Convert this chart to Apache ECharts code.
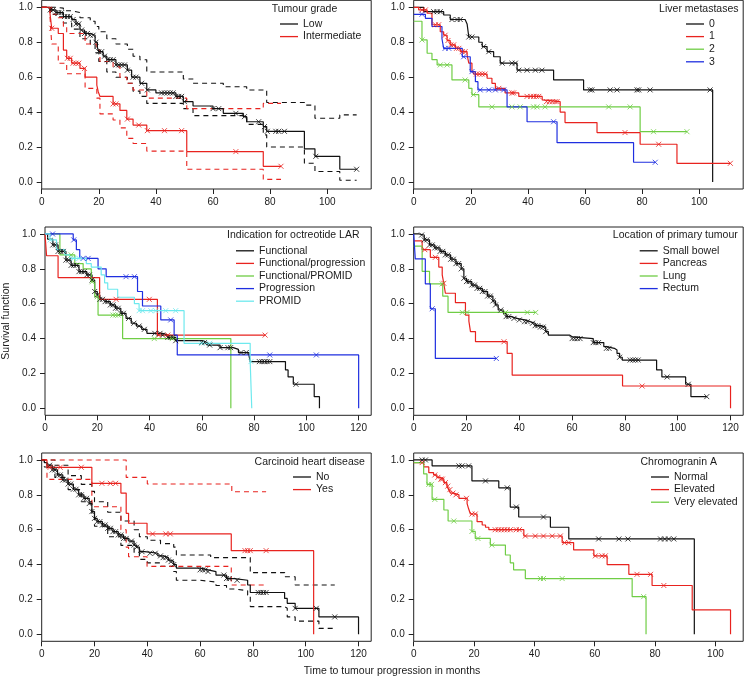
<!DOCTYPE html>
<html><head><meta charset="utf-8">
<script src="https://cdn.jsdelivr.net/npm/echarts@6/dist/echarts.min.js"></script>
<style>html,body{margin:0;padding:0;background:#fff}#c{width:744px;height:678px}</style>
</head><body><div id="c"></div>
<script>
// ---------------- DATA ----------------
// Panel 1: Tumour grade
const gradeLow = [[0,1],[3,0.985],[5,0.97],[7.6,0.947],[10.5,0.93],[12,0.905],[13.4,0.87],[15,0.85],[17,0.84],[18.7,0.80],[19.5,0.77],[20,0.746],[21.5,0.72],[22.8,0.70],[26,0.67],[30,0.64],[31.5,0.60],[34.4,0.565],[36.8,0.527],[40,0.51],[47,0.49],[49.6,0.46],[53,0.435],[60,0.42],[63.6,0.393],[70.6,0.374],[71.8,0.345],[77.6,0.317],[78.8,0.29],[92,0.19],[95.7,0.147],[104.4,0.073],[110.3,0.073]];
const gradeLowCens = [3,4,5,6,7,8,9,10,11,12,13,14,15,16,17,18,19,20,21,22,23,24,25,26,27,28,29,30,32,33,35,37,42,43,44,45,46,47,48,49,50,60,62,68,71,76,78,79,82,83,85,96,110.3];
const gradeLowUpper = [[0,1],[5,0.995],[7.6,0.98],[10.5,0.97],[13.4,0.94],[17,0.92],[18.7,0.89],[20,0.86],[22.8,0.82],[26,0.79],[30,0.76],[32,0.72],[34.4,0.70],[36.8,0.63],[49.6,0.59],[53,0.565],[63.6,0.545],[71.8,0.527],[78.8,0.455],[92,0.44],[95.7,0.365],[104.4,0.384],[110.3,0.384]];
const gradeLowLower = [[0,1],[3,0.96],[5,0.945],[7.6,0.91],[10.5,0.875],[13.4,0.82],[17,0.79],[18.7,0.74],[20,0.69],[22.8,0.63],[26,0.60],[30,0.565],[32,0.52],[34.4,0.49],[36.8,0.45],[49.6,0.42],[53,0.38],[71.8,0.33],[77.6,0.27],[78.8,0.20],[92,0.107],[95.7,0.06],[104.4,0.01],[110.3,0.01]];
const gradeInt = [[0,1],[2.9,0.965],[3.5,0.88],[5.8,0.85],[7.6,0.755],[8.75,0.708],[10.5,0.68],[13.4,0.65],[15.2,0.60],[19.3,0.555],[19.8,0.517],[20.4,0.49],[25,0.447],[27.4,0.41],[29.8,0.36],[32,0.326],[36.8,0.294],[50.8,0.174],[77.6,0.09],[83.8,0.09]];
const gradeIntCens = [3.5,9,10,11,12,13,15,25,26,30,34,37,43,49,68,83.8];
const gradeIntUpper = [[0,1],[3.5,0.96],[5.8,0.94],[7.6,0.89],[8.75,0.85],[15.2,0.79],[19.3,0.755],[20.4,0.69],[25,0.66],[27.4,0.60],[29.8,0.565],[32,0.527],[36.8,0.48],[50.8,0.42],[77.6,0.45],[83.8,0.45]];
const gradeIntLower = [[0,1],[2.9,0.947],[3.5,0.79],[5.8,0.68],[8.75,0.62],[15.2,0.536],[19.3,0.48],[20.4,0.39],[25,0.355],[27.4,0.31],[29.8,0.25],[32,0.22],[36.8,0.177],[50.8,0.073],[77.6,0.015],[83.8,0.015]];

// Panel 2: Liver metastases
const liver0 = [[0,1],[3.5,0.975],[10.5,0.956],[12.8,0.93],[18,0.92],[18.7,0.905],[19.3,0.83],[22.8,0.80],[24,0.775],[25.7,0.746],[28,0.717],[30.3,0.68],[36.2,0.64],[49,0.584],[59.5,0.527],[104.7,0]];
const liver0Cens = [7,8.2,9.3,13.4,15.2,16.3,19.3,20.4,24.5,26.3,31,34.4,35.6,36.8,39.7,42.6,44.9,61.8,62.4,68.8,71.2,78.2,78.8,82.8,103.8];
const liver1 = [[0,1],[1.75,0.985],[4.7,0.966],[6.4,0.9],[9.3,0.86],[10.5,0.84],[11.7,0.81],[12.8,0.785],[14.6,0.765],[16.3,0.746],[18.7,0.727],[19.3,0.68],[20.4,0.64],[21,0.618],[25.7,0.594],[27.4,0.565],[28.6,0.536],[32,0.51],[36.8,0.49],[45,0.47],[45.5,0.46],[51.3,0.40],[53,0.34],[64.2,0.283],[79.3,0.216],[92.2,0.107],[110.9,0.107]];
const liver1Cens = [2.9,4.1,7.6,8.75,11,12,13,14,15,15.8,17,18,22,23,24,25,29.8,34.4,35,39.7,41,42,43,43.8,46.5,47.5,48.5,49.5,50.2,74,85.8,110.9];
const liver2 = [[0,0.92],[2.9,0.813],[4.7,0.737],[6.4,0.70],[8.2,0.67],[13.4,0.584],[19.3,0.536],[20.4,0.50],[22.8,0.43],[79.3,0.288],[95.7,0.288]];
const liver2Cens = [2.9,9.3,11.7,18,20.9,27.4,34.4,37.3,42,43.2,46,68.3,75.8,84,95.7];
const liver3 = [[0,0.96],[4.1,0.937],[6.4,0.89],[9.9,0.82],[10.5,0.765],[17,0.717],[19.8,0.632],[21.6,0.574],[22.5,0.527],[32.7,0.43],[39.7,0.345],[50.2,0.225],[77,0.113],[84.6,0.113]];
const liver3Cens = [2.9,11,12.3,17.5,20.4,23.3,26.3,28.6,31.5,49,84.6];

// Panel 3: Indication for octreotide LAR
const indFunc = [[0,1],[1,0.97],[3,0.937],[5,0.9],[8,0.85],[10,0.82],[13,0.784],[16,0.765],[18,0.736],[19,0.67],[20,0.65],[21,0.625],[23,0.612],[25,0.593],[27,0.574],[29,0.545],[31,0.516],[33,0.488],[35,0.472],[37,0.453],[39,0.43],[45,0.42],[47,0.407],[50,0.388],[60,0.377],[62,0.363],[67,0.348],[72,0.338],[74,0.32],[78,0.306],[78.5,0.268],[92,0.22],[93,0.18],[95,0.138],[103,0.067],[105,0]];
const indFuncCens = [3,4,5,6,7,8,9,10,11,12,13,14,15,16,17,18,19,20,21,22,23,24,25,26,27,28,29,30,32,34,36,38,42,44,45,47,48,49,50,60,61,63,67,70,71,75,77,82,83,84,85,86,96];
const indFuncProg = [[0,1],[0.6,0.875],[5,0.75],[20.9,0.625],[43,0.42],[84.2,0.42]];
const indFuncProgCens = [27.2,39.9,43.5,47,84.2];
const indFuncPromid = [[0,1],[5.7,0.88],[11.4,0.83],[14.6,0.80],[17.7,0.726],[19,0.64],[20.3,0.535],[29.7,0.40],[71.1,0]];
const indFuncPromidCens = [10,18,20,26,27,28,41.8,48.7];
const indProg = [[0,1],[10.8,0.966],[12,0.91],[13.3,0.86],[20.3,0.80],[23.4,0.755],[35.4,0.67],[37.3,0.587],[44.3,0.507],[49.4,0.42],[50.6,0.306],[120,0]];
const indProgCens = [2.9,11,14.6,16.5,31,34.2,48.1,86,103.8];
const indPromid = [[0,1],[1.9,0.966],[4.4,0.91],[7.6,0.88],[9.5,0.86],[15.8,0.83],[17.7,0.81],[21.5,0.765],[22.8,0.72],[24,0.683],[27.8,0.637],[34.2,0.60],[36,0.56],[53.2,0.373],[78.5,0.268],[79.1,0]];
const indPromidCens = [2,11,13,36,37.3,40.5,42.4,46.2,50,60,63,78.8];

// Panel 4: Location of primary tumour
const locSB = [[0,1],[2,0.994],[4,0.966],[6,0.937],[8,0.92],[10,0.9],[12,0.88],[14,0.855],[16,0.83],[18,0.80],[19,0.746],[20,0.727],[22,0.707],[24,0.688],[26,0.67],[28,0.644],[30,0.616],[31,0.593],[32,0.564],[34,0.545],[35,0.526],[37,0.516],[39,0.507],[42,0.497],[44,0.488],[46,0.474],[48,0.466],[50,0.44],[51,0.42],[59,0.41],[60,0.40],[68,0.377],[72,0.354],[73,0.344],[76,0.334],[77,0.315],[78,0.293],[79,0.277],[92,0.22],[94,0.18],[103,0.138],[105,0.067],[111,0.067]];
const locSBCens = [3,4,5,6,7,8,9,10,11,12,13,14,15,16,17,18,19,20,21,22,23,24,25,26,27,28,29,30,31,33,35,36,38,40,42,43,45,46,47,48,49,50,60,61,62,63,68,69,70,73,74,78,82,83,84,85,96,104,111];
const locPanc = [[0,0.96],[3.2,0.91],[6.3,0.866],[9.5,0.81],[10.8,0.765],[11.4,0.717],[12,0.66],[15.8,0.606],[19.6,0.535],[20.9,0.50],[21.5,0.44],[23.4,0.382],[35.4,0.315],[37.3,0.19],[79.1,0.128],[120,0]];
const locPancCens = [4.2,8.2,11.4,34.2,86.5];
const locLung = [[0,0.93],[3.2,0.786],[6,0.714],[11,0.643],[13,0.55],[46.2,0.55]];
const locLungCens = [10.8,18.4,20.2,34.8,43,46.2];
const locRect = [[0,1],[0.6,0.857],[4.4,0.714],[6.3,0.571],[8.2,0.286],[31.3,0.286]];
const locRectCens = [7,31.3];

// Panel 5: Carcinoid heart disease
const chdNo = [[0,1],[1,0.985],[2,0.97],[4,0.943],[6,0.914],[8,0.885],[10,0.862],[12,0.832],[14,0.80],[16,0.78],[18,0.75],[19,0.704],[20,0.665],[21,0.646],[23,0.627],[25,0.608],[27,0.589],[29,0.57],[31,0.55],[33,0.535],[35,0.512],[36,0.50],[37,0.474],[39,0.465],[44,0.45],[46,0.44],[48,0.426],[49,0.417],[50,0.40],[51,0.38],[60,0.37],[63,0.36],[66,0.34],[70,0.32],[73,0.31],[78,0.283],[79,0.24],[92,0.206],[93,0.178],[96,0.149],[105,0.10],[120,0]];
const chdNoCens = [3,4,5,6,7,8,9,10,11,12,13,14,15,16,17,18,19,20,21,22,23,24,25,26,27,28,29,30,31,32,34,35,36,38,41,43,45,46,47,48,49,50,60,61,62,63,69,70,71,74,82,83,84,85,96,104,111];
const chdNoUpper = [[0,1],[5,0.97],[10,0.91],[15,0.86],[19,0.82],[20,0.76],[25,0.70],[30,0.65],[35,0.60],[37,0.56],[40,0.54],[45,0.52],[50,0.50],[51,0.455],[64,0.44],[78,0.44],[79,0.354],[92,0.33],[96,0.283],[111,0.283]];
const chdNoLower = [[0,1],[1,0.96],[5,0.9],[10,0.83],[15,0.76],[19,0.68],[20,0.62],[25,0.56],[30,0.51],[35,0.47],[37,0.43],[40,0.41],[45,0.39],[50,0.36],[51,0.31],[60,0.30],[66,0.28],[70,0.26],[73,0.25],[78,0.225],[79,0.159],[92,0.15],[93,0.10],[96,0.076],[105,0.034],[111,0.034]];
const chdYes = [[0,1],[2,0.958],[19,0.866],[30,0.81],[32,0.694],[32.9,0.637],[39.9,0.576],[71.8,0.48],[103,0]];
const chdYesCens = [3.2,7,15,22.8,26,28,42,47,48.7,77,78,79,85];
const chdYesUpper = [[0,1],[32,0.90],[40,0.862],[72,0.818],[85,0.818]];
const chdYesLower = [[0,1],[2,0.889],[19,0.732],[30,0.60],[32,0.50],[32.9,0.445],[39.9,0.39],[71.8,0.283],[85,0.283]];

// Panel 6: Chromogranin A
const cgaNormal = [[0,1],[6.1,0.966],[19.3,0.88],[28.2,0.84],[32,0.73],[34.8,0.673],[45.3,0.614],[51.4,0.547],[93,0]];
const cgaNormalCens = [2.8,3.9,15,16,18.2,23.8,31,34,43,61.3,68,71,81.8,83.2,84.5,86.2];
const cgaElev = [[0,0.985],[3.3,0.96],[5,0.927],[6.6,0.914],[7.7,0.9],[8.8,0.89],[10,0.87],[11,0.85],[11.6,0.83],[12.2,0.81],[13.3,0.80],[15,0.78],[17.7,0.75],[18.2,0.72],[18.8,0.69],[21,0.646],[22.7,0.627],[23.8,0.614],[24.9,0.60],[36.5,0.564],[49.2,0.526],[53,0.484],[59.7,0.45],[64.1,0.40],[71.3,0.344],[79,0.28],[92.3,0.14],[105,0]];
const cgaElevCens = [2.8,7,8,9,9.5,10.5,11.3,12,13,14,17.5,19.3,20.4,27,28,29,30,31,32,34,35,37,40.3,43,45.9,48.6,50,51.4,60.2,62.4,63.5,74,78.5,82.9];
const cgaVery = [[0,0.985],[3.3,0.92],[4.4,0.86],[6.1,0.774],[10,0.713],[11.4,0.65],[19.3,0.59],[20.4,0.55],[25.4,0.512],[30.4,0.455],[32,0.41],[33.1,0.37],[37,0.32],[72.4,0.216],[77,0]];
const cgaVeryCens = [5,5.9,7,13.3,19.3,21.3,25.9,42,43,49.2,76.2];

// Tick labels
const yTicks = [0, 0.2, 0.4, 0.6, 0.8, 1.0];
const xTicks100 = [0, 20, 40, 60, 80, 100];
const xTicks120 = [0, 20, 40, 60, 80, 100, 120];
const legendTitles = ['Tumour grade','Liver metastases','Indication for octreotide LAR','Location of primary tumour','Carcinoid heart disease','Chromogranin A'];

// ---------------- STYLE / LAYOUT ----------------
const FONT = '"Liberation Sans", Arial, Helvetica, sans-serif';
const TXT = '#1a1a1a';
const C = {k:'#111111', r:'#e8231f', g:'#6fcd45', b:'#1f2fe0', c:'#6ee9ee'};
const colL = 41.7, colR = 413.7, W = 329.5;
const rowTop = [0.3, 227, 453], H = [188.7, 188.3, 188.3];

const panels = [
  {col:colL,row:0,xmax:115.4,xt:xTicks100},
  {col:colR,row:0,xmax:115.4,xt:xTicks100},
  {col:colL,row:1,xmax:124.8,xt:xTicks120,yname:'Survival function'},
  {col:colR,row:1,xmax:124.8,xt:xTicks120},
  {col:colL,row:2,xmax:124.8,xt:xTicks120},
  {col:colR,row:2,xmax:109.2,xt:xTicks100}
];

const grid=[], xAxis=[], yAxis=[];
panels.forEach((p,i)=>{
  grid.push({left:p.col, top:rowTop[p.row], width:W, height:H[p.row], show:true, borderColor:'#222', borderWidth:1, containLabel:false});
  xAxis.push({type:'value', gridIndex:i, min:0, max:p.xmax,
    axisLine:{show:false,onZero:false}, splitLine:{show:false},
    axisTick:{show:true, inside:false, length:5, customValues:p.xt, lineStyle:{color:'#222',width:1}},
    axisLabel:{customValues:p.xt, fontSize:10, color:TXT, fontFamily:FONT, margin:8}});
  yAxis.push({type:'value', gridIndex:i, min:-0.04, max:1.04,
    axisLine:{show:false,onZero:false}, splitLine:{show:false},
    axisTick:{show:true, inside:false, length:5, customValues:yTicks, lineStyle:{color:'#222',width:1}},
    axisLabel:{customValues:yTicks, fontSize:10, color:TXT, fontFamily:FONT, margin:9, formatter:v=>v.toFixed(1)},
    name:p.yname||'', nameLocation:'middle', nameGap:33, nameTextStyle:{fontSize:10.5,color:TXT,fontFamily:FONT}});
});

function stepAt(curve,t){ let s=curve[0][1]; for(const pt of curve){ if(pt[0]<=t+1e-9) s=pt[1]; else break; } return s; }

const series=[];
const XSYM='path://M0,0L10,10M10,0L0,10';
function ci(curve, color, gi){
  series.push({type:'line', xAxisIndex:gi, yAxisIndex:gi, data:curve, step:'end', symbol:'none', silent:true,
    lineStyle:{color:color, width:1.1, type:[5,4]}, color:color, z:2});
}
function km(name, curve, cens, color, gi){
  series.push({name:name, type:'line', xAxisIndex:gi, yAxisIndex:gi, data:curve, step:'end', symbol:'none',
    lineStyle:{color:color, width:1.2}, color:color, z:3});
  series.push({type:'scatter', xAxisIndex:gi, yAxisIndex:gi, silent:true, data:cens.map(t=>[t, stepAt(curve,t)]),
    symbol:XSYM, symbolSize:[5,5], itemStyle:{color:color, borderColor:color, borderWidth:1}, color:color, z:4});
}
// panel 1
ci(gradeLowUpper,C.k,0); ci(gradeLowLower,C.k,0); ci(gradeIntUpper,C.r,0); ci(gradeIntLower,C.r,0);
km('Low',gradeLow,gradeLowCens,C.k,0); km('Intermediate',gradeInt,gradeIntCens,C.r,0);
// panel 2
km('0',liver0,liver0Cens,C.k,1); km('1',liver1,liver1Cens,C.r,1); km('2',liver2,liver2Cens,C.g,1); km('3',liver3,liver3Cens,C.b,1);
// panel 3
km('Functional',indFunc,indFuncCens,C.k,2); km('Functional/progression',indFuncProg,indFuncProgCens,C.r,2);
km('Functional/PROMID',indFuncPromid,indFuncPromidCens,C.g,2); km('Progression',indProg,indProgCens,C.b,2);
km('PROMID',indPromid,indPromidCens,C.c,2);
// panel 4
km('Small bowel',locSB,locSBCens,C.k,3); km('Pancreas',locPanc,locPancCens,C.r,3);
km('Lung',locLung,locLungCens,C.g,3); km('Rectum',locRect,locRectCens,C.b,3);
// panel 5
ci(chdNoUpper,C.k,4); ci(chdNoLower,C.k,4); ci(chdYesUpper,C.r,4); ci(chdYesLower,C.r,4);
km('No',chdNo,chdNoCens,C.k,4); km('Yes',chdYes,chdYesCens,C.r,4);
// panel 6
km('Normal',cgaNormal,cgaNormalCens,C.k,5); km('Elevated',cgaElev,cgaElevCens,C.r,5); km('Very elevated',cgaVery,cgaVeryCens,C.g,5);

const legendDefs = [
  {names:['Low','Intermediate'], left:280, top:18.5, tx:304.5, ty:9.3},
  {names:['0','1','2','3'], left:686, top:18.5, tx:698.8, ty:9.3},
  {names:['Functional','Functional/progression','Functional/PROMID','Progression','PROMID'], left:236, top:245.3, tx:293.3, ty:235},
  {names:['Small bowel','Pancreas','Lung','Rectum'], left:639.7, top:245.3, tx:675.3, ty:235},
  {names:['No','Yes'], left:293, top:471.5, tx:309.7, ty:461.7},
  {names:['Normal','Elevated','Very elevated'], left:651, top:471.5, tx:678.7, ty:461.7}
];
const legend = legendDefs.map(d=>({data:d.names, orient:'vertical', left:d.left, top:d.top, padding:0,
  itemWidth:18, itemHeight:1.3, itemGap:1.6, icon:'rect', selectedMode:false,
  textStyle:{fontSize:10.5, color:TXT, fontFamily:FONT, padding:[0,0,0,0]}}));

const graphic = legendDefs.map((d,i)=>({type:'text', x:d.tx, y:d.ty, silent:true,
  style:{text:legendTitles[i], fontSize:10.5, fontFamily:FONT, fill:TXT, align:'center', verticalAlign:'middle'}}));
graphic.push({type:'text', x:392, y:671.5, silent:true,
  style:{text:'Time to tumour progression in months', fontSize:10.5, fontFamily:FONT, fill:TXT, align:'center', verticalAlign:'middle'}});

const chart = echarts.init(document.getElementById('c'), null, {renderer:'canvas'});
chart.setOption({animation:false, backgroundColor:'#fff', grid, xAxis, yAxis, series, legend, graphic});
</script></body></html>
